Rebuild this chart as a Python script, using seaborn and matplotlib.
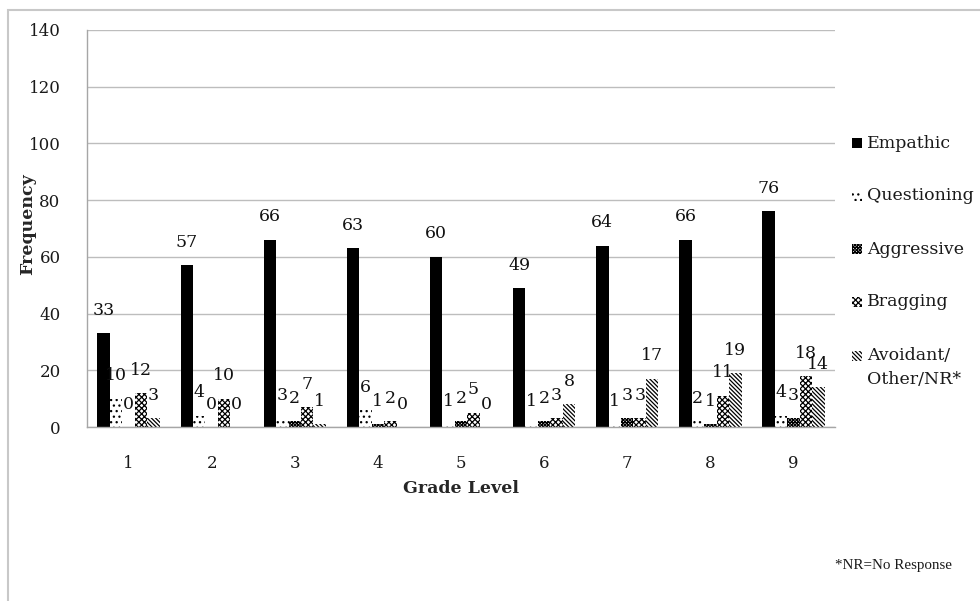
import numpy as np
import pandas as pd
import matplotlib
matplotlib.use("Agg")
import matplotlib.pyplot as plt
from matplotlib.patches import Rectangle
import seaborn as sns

# Response counts by grade level
grades = ["1", "2", "3", "4", "5", "6", "7", "8", "9"]
series_names = ["Empathic", "Questioning", "Aggressive", "Bragging", "Avoidant/\nOther/NR*"]
empathic = [33, 57, 66, 63, 60, 49, 64, 66, 76]
questioning = [10, 4, 3, 6, 1, 1, 1, 2, 4]
aggressive = [0, 0, 2, 1, 2, 2, 3, 1, 3]
bragging = [12, 10, 7, 2, 5, 3, 3, 11, 18]
avoidant = [3, 0, 1, 0, 0, 8, 17, 19, 14]
y_ticks = [0, 20, 40, 60, 80, 100, 120, 140]

series_values = [empathic, questioning, aggressive, bragging, avoidant]
df = pd.DataFrame({
    "Grade Level": np.tile(grades, len(series_names)),
    "Response": np.repeat(series_names, len(grades)),
    "Frequency": np.concatenate(series_values),
})

sns.set_style("white")
plt.rcParams["font.family"] = ["DejaVu Serif", "DejaVu Sans"]
plt.rcParams["hatch.linewidth"] = 0.9

fills = ["black", "white", "white", "white", "white"]
hatches = [None, "...", "xxxxxxxxxx", "xxxxxx", "\\" * 8]

W, H = 980, 601
fig = plt.figure(figsize=(W / 100, H / 100), dpi=100)
ax = fig.add_axes([87 / W, (H - 427) / H, (835 - 87) / W, 397 / H])

sns.barplot(data=df, x="Grade Level", y="Frequency", hue="Response",
            order=grades, hue_order=series_names, palette=fills,
            saturation=1, width=0.75, edgecolor="black", linewidth=0,
            legend=False, ax=ax)

for cont, hatch, vals in zip(ax.containers, hatches, series_values):
    for bar, v in zip(cont, vals):
        if hatch:
            bar.set_hatch(hatch)
        ax.annotate(str(v), (bar.get_x() + bar.get_width() / 2, v),
                    xytext=(0, 16.5), textcoords="offset points",
                    ha="center", va="center", fontsize=12.5, color="#111111")

ax.set_ylim(0, 140)
ax.set_xlim(-0.5, len(grades) - 0.5)
ax.set_yticks(y_ticks)
ax.set_yticklabels([str(t) for t in y_ticks], fontsize=12, color="#1a1a1a")
ax.yaxis.grid(True, color="#bdbdbd", linewidth=1)
ax.set_axisbelow(True)

ax.set_xticks(range(len(grades)))
ax.set_xticklabels(grades, fontsize=12, color="#1a1a1a")
ax.set_xticks(np.arange(-0.5, len(grades)), minor=True)
ax.tick_params(axis="x", which="major", length=0, pad=20)
ax.tick_params(axis="x", which="minor", length=6, color="#a6a6a6", width=1)
ax.tick_params(axis="y", which="major", length=7, color="#bdbdbd", width=1, pad=12)

for side in ["top", "right"]:
    ax.spines[side].set_visible(False)
for side in ["left", "bottom"]:
    ax.spines[side].set_color("#a6a6a6")
    ax.spines[side].set_linewidth(1)

ax.set_xlabel("Grade Level", fontsize=12.5, fontweight="bold", labelpad=6)
ax.set_ylabel("")
fig.text(28 / W, 1 - 224 / H, "Frequency", rotation=90, ha="center", va="center",
         fontsize=12.5, fontweight="bold")

# Legend on the right
legend_y = [143, 196, 249, 302, 356]
for name, fill, hatch, yc in zip(series_names, fills, hatches, legend_y):
    fig.add_artist(Rectangle((852 / W, 1 - (yc + 5) / H), 10 / W, 10 / H,
                             transform=fig.transFigure, facecolor=fill,
                             edgecolor="black", linewidth=0, hatch=hatch))
    lines = name.split("\n")
    for k, line in enumerate(lines):
        fig.text(867 / W, 1 - (yc + 24 * k) / H, line, ha="left", va="center",
                 fontsize=12.5, color="#1a1a1a")

fig.text(835 / W, 1 - 565 / H, "*NR=No Response", ha="left", va="center",
         fontsize=10.8, family="Liberation Serif", color="#1a1a1a")

# Chart frame
fig.add_artist(Rectangle((8 / W, -0.2), 1.2, 1 - 10 / H + 0.2,
                         transform=fig.transFigure, fill=False,
                         edgecolor="#c8c8c8", linewidth=1.5, clip_on=False))

fig.savefig("out.png", dpi=100, facecolor="white")
